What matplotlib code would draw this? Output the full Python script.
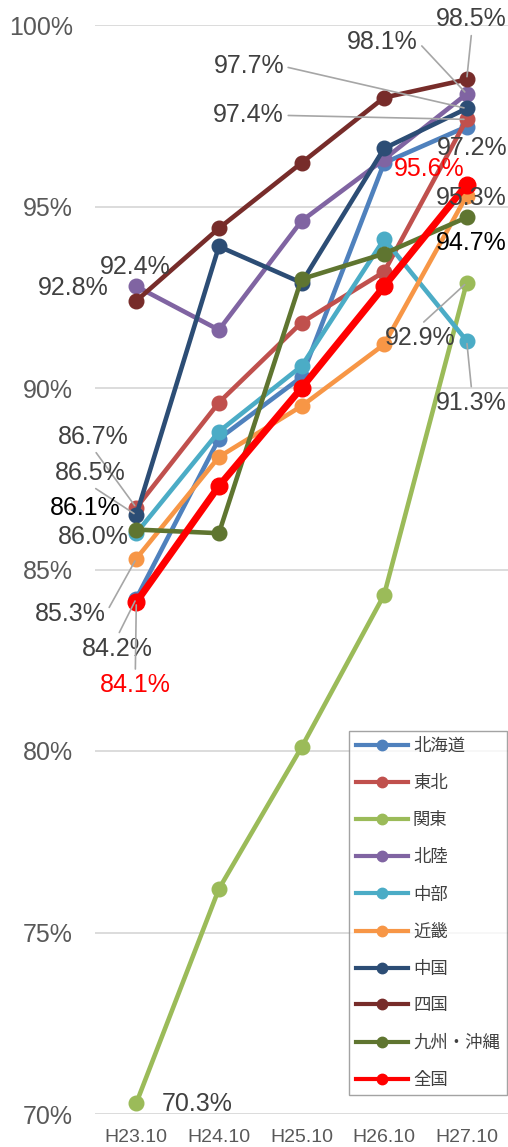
import matplotlib
matplotlib.use("Agg")
import matplotlib.pyplot as plt
from matplotlib.lines import Line2D

plt.rcParams['font.family'] = ['Liberation Sans', 'Noto Sans CJK JP']

periods = ["H23.10", "H24.10", "H25.10", "H26.10", "H27.10"]

hokkaido = [84.2, 88.6, 90.3, 96.2, 97.2]
tohoku = [86.7, 89.6, 91.8, 93.2, 97.4]
kanto = [70.3, 76.2, 80.1, 84.3, 92.9]
hokuriku = [92.8, 91.6, 94.6, 96.3, 98.1]
chubu = [86.0, 88.8, 90.6, 94.1, 91.3]
kinki = [85.3, 88.1, 89.5, 91.2, 95.3]
chugoku = [86.5, 93.9, 92.9, 96.6, 97.7]
shikoku = [92.4, 94.4, 96.2, 98.0, 98.5]
kyushu = [86.1, 86.0, 93.0, 93.7, 94.7]
zenkoku = [84.1, 87.3, 90.0, 92.8, 95.6]

names = ["北海道", "東北", "関東", "北陸", "中部", "近畿", "中国", "四国", "九州・沖縄", "全国"]
series = [hokkaido, tohoku, kanto, hokuriku, chubu, kinki, chugoku, shikoku, kyushu, zenkoku]
colors = ["#4F81BD", "#C0504D", "#9BBB59", "#8064A2", "#4BACC6",
          "#F79646", "#2C4D75", "#772C2A", "#5F7530", "#FF0000"]

# data labels: (series, point, dx px, dy px, text colour, leader start relpos or None)
gray = "#404040"
labels = [
    (7, 4, 5, 60, gray, (0.5, 0)),
    (3, 4, -84, 52, gray, (1, 0.5)),
    (6, 4, -218, 42, gray, (1, 0.5)),
    (1, 4, -218, 4, gray, (1, 0.5)),
    (0, 4, 5, -21, gray, None),
    (9, 4, -38, 16, "#FF0000", None),
    (5, 4, 5, -2, gray, None),
    (8, 4, 5, -26, "#000000", None),
    (2, 4, -47, -55, gray, (0.5, 1)),
    (4, 4, 5, -62, gray, (0.5, 1)),
    (3, 0, -63, -2, gray, None),
    (7, 0, -1, 34, gray, None),
    (1, 0, -43, 71, gray, (0.5, 0)),
    (6, 0, -46, 42, gray, (0.5, 0)),
    (8, 0, -51, 22, "#000000", None),
    (4, 0, -43, -4, gray, None),
    (5, 0, -66, -55, gray, (1, 0.5)),
    (0, 0, -19, -50, gray, (0.5, 1)),
    (9, 0, -1, -83, "#FF0000", (0.5, 1)),
    (2, 0, 61, -1, gray, None),
]

fig = plt.figure(figsize=(5.08, 11.47), dpi=100)
ax = fig.add_axes([95 / 508, 33 / 1147, 413 / 508, 1089 / 1147])

x = list(range(len(periods)))
for name, vals, c in zip(names, series, colors):
    if name == "全国":
        ax.plot(x, vals, color=c, lw=5, marker="o", ms=12, clip_on=False, zorder=4)
    else:
        ax.plot(x, vals, color=c, lw=3.3, marker="o", ms=10.5, clip_on=False, zorder=3)

for si, pi, dx, dy, tc, rel in labels:
    v = series[si][pi]
    kw = {}
    if rel is not None:
        kw["arrowprops"] = dict(arrowstyle="-", color="#A6A6A6", lw=1.2,
                                relpos=rel, shrinkA=1, shrinkB=2)
    ax.annotate(f"{v:.1f}%", xy=(pi, v), xytext=(dx, dy), textcoords="offset pixels",
                ha="center", va="center", fontsize=18, color=tc, zorder=6, **kw)

ax.set_xlim(-0.5, 4.5)
ax.set_ylim(70, 100)
ax.set_yticks(range(70, 101, 5))
ax.set_yticklabels([f"{t}%" for t in range(70, 101, 5)])
ax.set_xticks(x)
ax.set_xticklabels(periods)
ax.tick_params(axis="y", length=0, pad=16, labelsize=18, labelcolor="#595959")
ax.tick_params(axis="x", length=0, pad=11, labelsize=14, labelcolor="#595959")
ax.yaxis.grid(True, color="#D9D9D9", lw=1.3)
ax.set_axisbelow(True)
for s in ax.spines.values():
    s.set_visible(False)

handles = [Line2D([], [], color=c, lw=3, marker="o", ms=7.5) for c in colors]
leg = ax.legend(handles, names, loc="lower right", bbox_to_anchor=(0.997, 0.0174),
                fontsize=12.5, frameon=True, fancybox=False, edgecolor="#8C8C8C",
                labelspacing=1.22, handlelength=3.0, handletextpad=0.3,
                borderpad=0.4, borderaxespad=0)
leg.get_frame().set_linewidth(1)
leg.set_zorder(7)
for t in leg.get_texts():
    t.set_color("#404040")

fig.savefig("out.png", dpi=100)
